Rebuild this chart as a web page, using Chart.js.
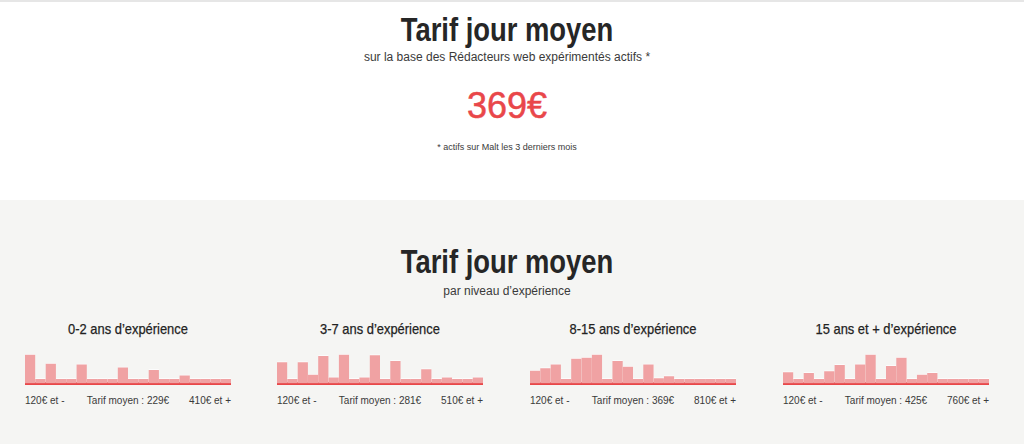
<!DOCTYPE html>
<html lang="fr">
<head>
<meta charset="utf-8">
<title>Tarif jour moyen</title>
<script src="https://cdn.jsdelivr.net/npm/chart.js@4.4.1/dist/chart.umd.min.js"></script>
<style>
  body { margin: 0; width: 1024px; height: 444px; overflow: hidden; font-family: 'Liberation Sans', Arial, sans-serif; color: #2b2b2b; position: relative; background: #fff; }
  .topline { position: absolute; left: 0; top: 0; width: 1024px; height: 2px; background: #e6e6e6; }
  .bas { position: absolute; left: 0; top: 200px; width: 1024px; height: 244px; background: #f5f5f3; }
  .txt { position: absolute; left: 0; width: 1014px; text-align: center; white-space: nowrap; }
  .titre { font-family: 'Liberation Sans', Arial, sans-serif; font-weight: bold; font-size: 33px; line-height: 33px; color: #262626; transform: scaleX(0.83); transform-origin: 507px 0; }
  .sous { font-size: 12px; line-height: 12px; color: #3a3a3a; }
  .prix { font-size: 36px; line-height: 36px; color: #e9474a; -webkit-text-stroke: 0.5px #e9474a; }
  .note { font-size: 9px; line-height: 9px; color: #3a3a3a; }
  .bloc { position: absolute; width: 206px; }
  .bloc h3 { position: absolute; margin: 0; top: 0; left: -40px; width: 286px; text-align: center; font-family: 'Liberation Sans', Arial, sans-serif; font-weight: normal; font-size: 15px; line-height: 14px; color: #222; transform: scaleX(0.86); transform-origin: 143px 0; -webkit-text-stroke: 0.25px #222; }
  .graph { position: absolute; top: 32px; left: 0; width: 206px; height: 31px; }
  .legende { position: absolute; top: 74px; left: 0; width: 206px; font-size: 10px; line-height: 10px; color: #3a3a3a; }
  .legende span { position: absolute; top: 0; white-space: nowrap; }
</style>
</head>
<body>
<div class="topline"></div>
<div class="bas"></div>

<div class="txt titre" style="top:13px">Tarif jour moyen</div>
<div class="txt sous" style="top:51px">sur la base des Rédacteurs web expérimentés actifs *</div>
<div class="txt prix" style="top:88px" id="prix"></div>
<div class="txt note" style="top:143px">* actifs sur Malt les 3 derniers mois</div>

<div class="txt titre" style="top:245px">Tarif jour moyen</div>
<div class="txt sous" style="top:285px">par niveau d’expérience</div>

<div id="blocs"></div>

<script>
// chiffres
var tarifGlobal = 369;

var niveaux = ['0-2 ans d’expérience', '3-7 ans d’expérience', '8-15 ans d’expérience', '15 ans et + d’expérience'];
var tarifsMoyens = [229, 281, 369, 425];
var bornesBasses = ['120€ et -', '120€ et -', '120€ et -', '120€ et -'];
var bornesHautes = ['410€ et +', '510€ et +', '810€ et +', '760€ et +'];

// 20 tranches par histogramme (hauteur relative)
var tranches = ['1','2','3','4','5','6','7','8','9','10','11','12','13','14','15','16','17','18','19','20'];
var repartition02 = [85, 15, 59, 15, 15, 57, 15, 15, 15, 48, 15, 15, 41, 15, 15, 25, 15, 15, 15, 15];
var repartition37 = [63, 15, 63, 27, 81, 19, 85, 15, 19, 83, 15, 67, 15, 15, 43, 15, 19, 15, 15, 19];
var repartition815 = [39, 46, 57, 15, 73, 76, 85, 15, 67, 50, 15, 57, 17, 23, 15, 15, 15, 15, 15, 15];
var repartition15plus = [34, 15, 32, 15, 37, 55, 15, 57, 85, 15, 52, 76, 15, 27, 32, 15, 15, 15, 15, 15];

var series = [repartition02, repartition37, repartition815, repartition15plus];
var gauches = [25, 277, 530, 783];

document.getElementById('prix').textContent = tarifGlobal + '€';

var conteneur = document.getElementById('blocs');
for (let i = 0; i < niveaux.length; i++) {
    var bloc = document.createElement('div');
    bloc.className = 'bloc';
    bloc.style.left = gauches[i] + 'px';
    bloc.style.top = '322px';
    bloc.innerHTML = '<h3>' + niveaux[i] + '</h3>' +
        '<div class="graph"><canvas id="c' + i + '"></canvas></div>' +
        '<div class="legende">' +
        '<span style="left:0">' + bornesBasses[i] + '</span>' +
        '<span style="left:0;width:206px;text-align:center">Tarif moyen : ' + tarifsMoyens[i] + '€</span>' +
        '<span style="right:0">' + bornesHautes[i] + '</span>' +
        '</div>';
    conteneur.appendChild(bloc);

    var ctx = document.getElementById('c' + i).getContext('2d');
    new Chart(ctx, {
        type: 'bar',
        data: {
            labels: tranches,
            datasets: [{
                data: series[i],
                backgroundColor: '#f0a2a3',
                borderColor: 'rgba(255,255,255,0.7)',
                borderWidth: { top: 1, left: 0, right: 0, bottom: 0 },
                borderSkipped: 'start',
                barPercentage: 1,
                categoryPercentage: 1
            }]
        },
        options: {
            responsive: true,
            maintainAspectRatio: false,
            animation: false,
            layout: { padding: { left: 0, right: 0, top: 0, bottom: 1.5 } },
            plugins: { legend: { display: false }, tooltip: { enabled: false } },
            scales: {
                x: {
                    z: 1,
                    grid: { display: false, drawTicks: false },
                    ticks: { display: false },
                    border: { display: true, color: '#e84749', width: 3 }
                },
                y: {
                    display: false,
                    min: 0,
                    max: Math.max(...series[i])
                }
            }
        }
    });
}
</script>
</body>
</html>
